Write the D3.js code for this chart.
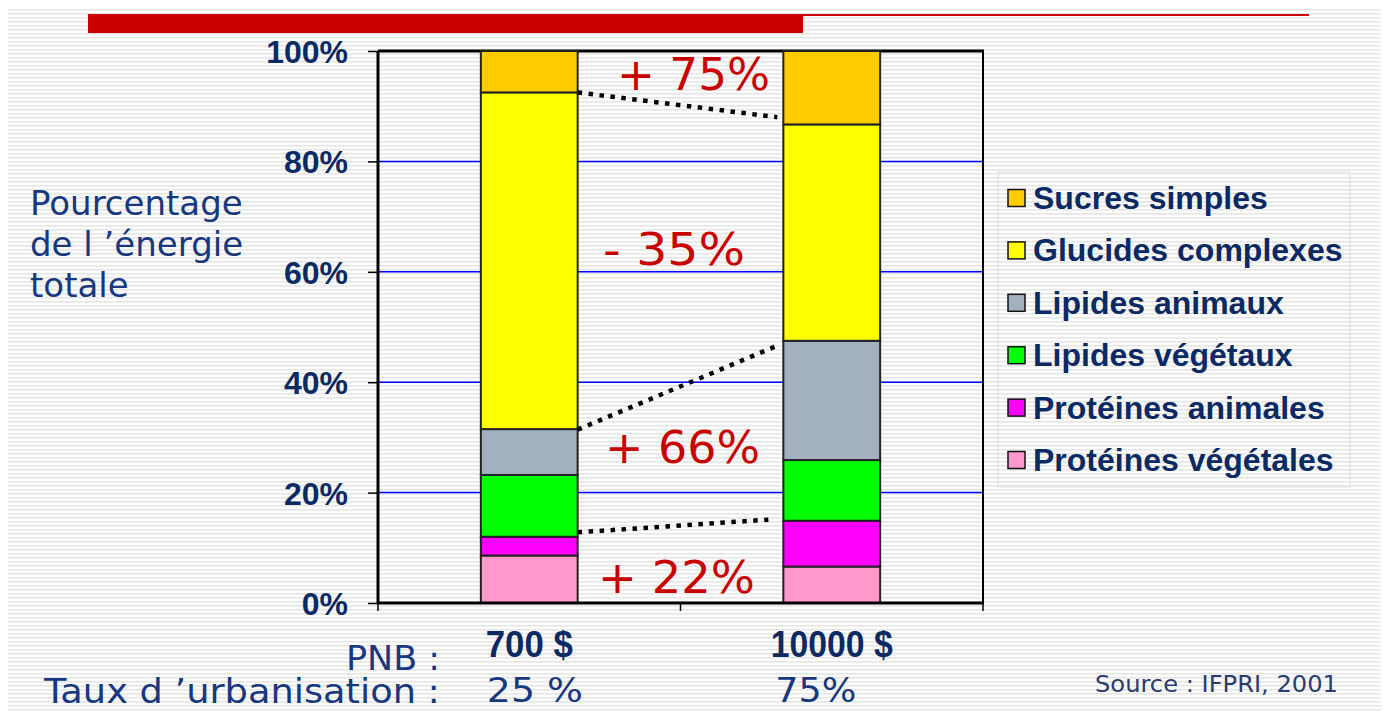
<!DOCTYPE html>
<html>
<head>
<meta charset="utf-8">
<script src="https://cdn.jsdelivr.net/npm/d3@7"></script>
<style>
  html, body { margin: 0; padding: 0; background: #ffffff; }
  svg { display: block; }
</style>
</head>
<body>
<svg id="chart" width="1389" height="711"></svg>
<script>
// ---------------- DATA ----------------
const categories = ["700 $", "10000 $"];
const urbanisation = ["25 %", "75%"];
const seriesNames = ["Protéines végétales", "Protéines animales", "Lipides végétaux", "Lipides animaux", "Glucides complexes", "Sucres simples"];
const proteinesVegetales = [8.6, 6.6];
const proteinesAnimales = [3.4, 8.3];
const lipidesVegetaux = [11.2, 11.0];
const lipidesAnimaux = [8.3, 21.6];
const glucidesComplexes = [61.0, 39.2];
const sucresSimples = [7.5, 13.3];
const yTicks = [0, 20, 40, 60, 80, 100];
const changeLabels = ["+ 75%", "- 35%", "+ 66%", "+ 22%"];
const connectorFrom = [92.5, 31.4, 12.8];
const connectorTo = [88.0, 46.7, 15.1];
const axisTitle = ["Pourcentage", "de l \u2019énergie", "totale"];

// ---------------- SETUP ----------------
const seriesValues = [proteinesVegetales, proteinesAnimales, lipidesVegetaux, lipidesAnimaux, glucidesComplexes, sucresSimples];
const colors = ["#ff99cc", "#ff00ff", "#00ff00", "#a3b0bf", "#ffff00", "#ffcc00"];
const rows = categories.map((c, i) => {
  const r = { cat: c };
  seriesNames.forEach((s, j) => r[s] = seriesValues[j][i]);
  return r;
});
const stacked = d3.stack().keys(seriesNames)(rows);

const svg = d3.select("#chart");
const W = 1389, H = 711;
const plot = { left: 378, right: 983, top: 51, bottom: 603 };

const navy = "#0b2a63";
const navyLight = "#17387f";
const red = "#c80000";

// background stripes
const defs = svg.append("defs");
const pat = defs.append("pattern").attr("id", "stripes")
  .attr("patternUnits", "userSpaceOnUse").attr("width", 20).attr("height", 4);
pat.append("rect").attr("width", 20).attr("height", 4).attr("fill", "#ffffff");
pat.append("rect").attr("y", 1).attr("width", 20).attr("height", 1.6).attr("fill", "#e6e6e6");
svg.append("rect").attr("x", 0).attr("y", 0).attr("width", W).attr("height", H).attr("fill", "#fff");
svg.append("rect").attr("x", 8).attr("y", 8).attr("width", 1373).attr("height", H - 8).attr("fill", "url(#stripes)");

// red banner
svg.append("rect").attr("x", 88).attr("y", 14).attr("width", 715).attr("height", 19).attr("fill", "#cc0000");
svg.append("rect").attr("x", 803).attr("y", 14).attr("width", 506).attr("height", 2).attr("fill", "#cc0000");

// scales
const x = d3.scaleBand().domain(categories).range([plot.left, plot.right])
  .paddingInner(0.68).paddingOuter(0.34);
const y = d3.scaleLinear().domain([0, 100]).range([plot.bottom, plot.top]);

// gridlines
svg.append("g").selectAll("line").data(yTicks.filter(t => t > 0 && t < 100)).join("line")
  .attr("x1", plot.left).attr("x2", plot.right)
  .attr("y1", d => y(d)).attr("y2", d => y(d))
  .attr("stroke", "#0000ff").attr("stroke-width", 1.5);

// frame top & right
svg.append("line").attr("x1", plot.left).attr("x2", plot.right + 1)
  .attr("y1", y(100)).attr("y2", y(100)).attr("stroke", "#000").attr("stroke-width", 3);
svg.append("line").attr("x1", plot.right).attr("x2", plot.right)
  .attr("y1", y(100)).attr("y2", y(0)).attr("stroke", "#000").attr("stroke-width", 2);

// bars
svg.append("g").selectAll("g").data(stacked).join("g")
  .attr("fill", (d, i) => colors[i])
  .selectAll("rect").data(d => d).join("rect")
  .attr("x", d => x(d.data.cat))
  .attr("width", x.bandwidth())
  .attr("y", d => y(d[1]))
  .attr("height", d => y(d[0]) - y(d[1]))
  .attr("stroke", "#222").attr("stroke-width", 2);

// y axis
const yAxis = svg.append("g").attr("transform", `translate(${plot.left},0)`)
  .call(d3.axisLeft(y).tickValues(yTicks).tickFormat(d => d + "%").tickSize(10).tickPadding(20));
yAxis.select(".domain").attr("stroke", "#000").attr("stroke-width", 3)
  .attr("d", `M0,${y(100)}V${y(0) + 1}`);
yAxis.selectAll(".tick line").attr("stroke", "#000").attr("stroke-width", 1.5);
yAxis.selectAll(".tick text")
  .attr("font-family", "'Liberation Sans', Arial, sans-serif")
  .attr("font-weight", "bold").attr("font-size", 32).attr("fill", navy)
  .attr("dy", "0.36em");

// x axis
const xTickPos = [plot.left, (plot.left + plot.right) / 2, plot.right];
svg.append("line").attr("x1", plot.left - 1).attr("x2", plot.right + 1)
  .attr("y1", y(0)).attr("y2", y(0)).attr("stroke", "#000").attr("stroke-width", 3);
svg.append("g").selectAll("line").data(xTickPos).join("line")
  .attr("x1", d => d).attr("x2", d => d)
  .attr("y1", y(0)).attr("y2", y(0) + 8)
  .attr("stroke", "#000").attr("stroke-width", 1.5);

// connectors (dotted)
const x0 = x(categories[0]) + x.bandwidth();
const x1 = x(categories[1]);
const endGap = [6, 5, 15];
svg.append("g").selectAll("line").data(connectorFrom).join("line")
  .attr("x1", x0).attr("y1", (d) => y(d))
  .attr("x2", (d, i) => x1 - endGap[i]).attr("y2", (d, i) => y(connectorTo[i]))
  .attr("stroke", "#000").attr("stroke-width", 4.5)
  .attr("stroke-dasharray", "4.5 6.5");

// change labels
const changePos = [[617, 90, 153], [603, 265, 142], [605, 463, 155], [598, 593, 157]];
svg.append("g").selectAll("text").data(changeLabels).join("text")
  .attr("x", (d, i) => changePos[i][0]).attr("y", (d, i) => changePos[i][1])
  .attr("textLength", (d, i) => changePos[i][2]).attr("lengthAdjust", "spacingAndGlyphs")
  .attr("font-family", "'DejaVu Sans', Verdana, sans-serif")
  .attr("font-size", 44).attr("fill", red)
  .text(d => d);

// axis title
svg.append("g").selectAll("text").data(axisTitle).join("text")
  .attr("x", 30).attr("y", (d, i) => 215 + i * 41)
  .attr("font-family", "'DejaVu Sans', Verdana, sans-serif")
  .attr("font-size", 34).attr("fill", navyLight)
  .text(d => d);

// legend
const legendX = 998, legendY = 172;
svg.append("rect").attr("x", legendX).attr("y", legendY).attr("width", 352).attr("height", 315)
  .attr("fill", "none").attr("stroke", "#dcdcdc").attr("stroke-width", 1);
const legendOrder = seriesNames.map((s, i) => ({ name: s, color: colors[i] })).reverse();
const lg = svg.append("g").selectAll("g").data(legendOrder).join("g")
  .attr("transform", (d, i) => `translate(${legendX}, ${legendY + 26 + i * 52.4})`);
lg.append("rect").attr("x", 10).attr("y", -8.5).attr("width", 17).attr("height", 17)
  .attr("fill", d => d.color).attr("stroke", "#111").attr("stroke-width", 1.5);
lg.append("text").attr("x", 35).attr("y", 11)
  .attr("font-family", "'Liberation Sans', Arial, sans-serif")
  .attr("font-weight", "bold").attr("font-size", 32).attr("fill", navy)
  .text(d => d.name);

// bottom labels
const bottomFont = "'DejaVu Sans', Verdana, sans-serif";
svg.append("text").attr("x", 440).attr("y", 670).attr("text-anchor", "end")
  .attr("font-family", bottomFont).attr("font-size", 34).attr("fill", navyLight)
  .attr("textLength", 94).attr("lengthAdjust", "spacingAndGlyphs")
  .text("PNB :");
svg.append("text").attr("x", 44).attr("y", 703)
  .attr("font-family", bottomFont).attr("font-size", 33).attr("fill", navyLight)
  .attr("textLength", 396).attr("lengthAdjust", "spacingAndGlyphs")
  .text("Taux d \u2019urbanisation :");

const catWidths = [87, 122];
svg.append("g").selectAll("text").data(categories).join("text")
  .attr("x", d => x(d) + x.bandwidth() / 2).attr("y", 657)
  .attr("text-anchor", "middle")
  .attr("font-family", "'Liberation Sans Narrow', 'Arial Narrow', 'Liberation Sans', sans-serif")
  .attr("font-weight", "bold").attr("font-size", 37).attr("fill", navy)
  .attr("textLength", (d, i) => catWidths[i]).attr("lengthAdjust", "spacingAndGlyphs")
  .text(d => d);

const urbX = [6, -8], urbW = [96, 81];
svg.append("g").selectAll("text").data(urbanisation).join("text")
  .attr("x", (d, i) => x(categories[i]) + urbX[i]).attr("y", 702)
  .attr("font-family", bottomFont).attr("font-size", 34).attr("fill", navyLight)
  .attr("textLength", (d, i) => urbW[i]).attr("lengthAdjust", "spacingAndGlyphs")
  .text(d => d);

svg.append("text").attr("x", 1095).attr("y", 692)
  .attr("font-family", bottomFont).attr("font-size", 23).attr("fill", "#2a3c6e")
  .attr("textLength", 243).attr("lengthAdjust", "spacingAndGlyphs")
  .text("Source : IFPRI, 2001");
</script>
</body>
</html>
